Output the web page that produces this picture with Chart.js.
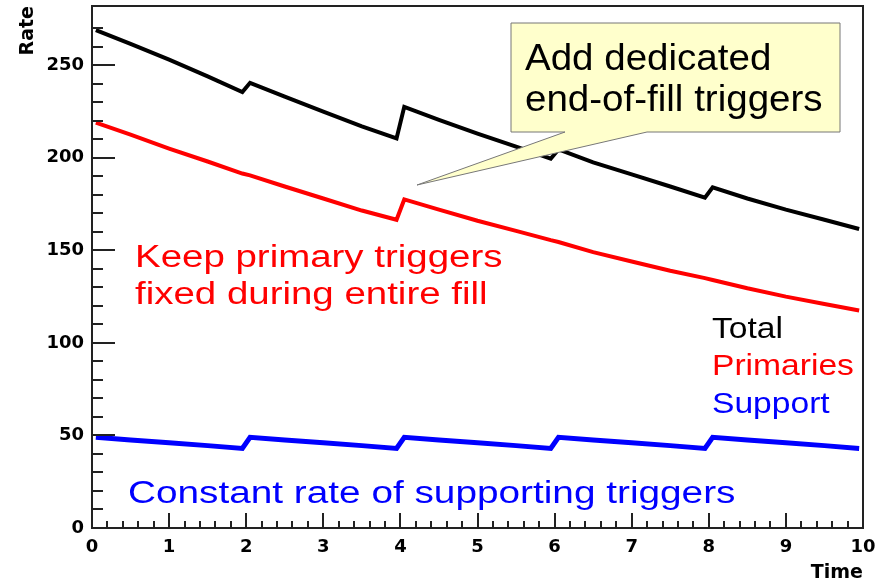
<!DOCTYPE html>
<html><head><meta charset="utf-8">
<script src="https://cdn.jsdelivr.net/npm/chart.js@4"></script>
<style>html,body{margin:0;padding:0;background:#fff}#wrap{width:888px;height:584px}</style>
</head><body><div id="wrap"><canvas id="c" width="888" height="584"></canvas></div>
<script>
// ---- data ----
const time = [0.05, 0.5, 1, 1.5, 1.95, 2.05, 2.5, 3, 3.5, 3.95, 4.05, 4.5, 5, 5.5, 5.95, 6.05, 6.5, 7, 7.5, 7.95, 8.05, 8.5, 9, 9.5, 9.95];
const totalRate = [269, 261.5, 253, 244, 235.5, 240.5, 233, 225, 217, 210.5, 227.5, 220.5, 213, 206, 199.5, 204.5, 197.5, 191, 184.5, 178.5, 184, 178, 172, 166.5, 161.5];
const primaryRate = [219, 212.5, 205, 198, 191.5, 190.5, 184.5, 178, 171.5, 166.5, 177.5, 172, 166, 160.5, 155.5, 154.5, 149, 144, 139, 135, 134, 129.5, 125, 121, 117.5];
const supportRate = [49, 47.5, 46, 44.5, 43, 49, 47.5, 46, 44.5, 43, 49, 47.5, 46, 44.5, 43, 49, 47.5, 46, 44.5, 43, 49, 47.5, 46, 44.5, 43];
const seriesNames = ['Total', 'Primaries', 'Support'];
const seriesColors = ['#000000', '#ff0000', '#0000ff'];
const xRange = [0, 10];
const yRange = [0, 282];
const xMajorStep = 1, xMinorStep = 0.2;
const yMajorStep = 50, yMinorStep = 10;
const axisTitles = {x: 'Time', y: 'Rate'};
const calloutLines = ['Add dedicated', 'end-of-fill triggers'];
const primaryNote = ['Keep primary triggers', 'fixed during entire fill'];
const supportNote = 'Constant rate of supporting triggers';

const pts = (ys) => time.map((t, i) => ({x: t, y: ys[i]}));
const isMult = (v, s) => Math.abs(v / s - Math.round(v / s)) < 1e-6;

function stretchText(ctx, txt, x, y, size, sx, color, bold) {
  ctx.save();
  ctx.font = (bold ? 'bold ' : '') + size + 'px "Liberation Sans", Arial, sans-serif';
  ctx.fillStyle = color;
  ctx.textBaseline = 'alphabetic';
  ctx.textAlign = 'left';
  ctx.translate(x, y);
  ctx.scale(sx, 1);
  ctx.fillText(txt, 0, 0);
  ctx.restore();
}

const decor = {
  id: 'decor',
  afterDatasetsDraw(chart) {
    const {ctx, chartArea: a, scales: {x, y}} = chart;
    ctx.save();
    // inward ticks
    ctx.strokeStyle = '#222';
    ctx.lineWidth = 2;
    ctx.beginPath();
    y.ticks.forEach(t => {
      const py = Math.round(y.getPixelForValue(t.value));
      const len = isMult(t.value, yMajorStep) ? 23 : 11;
      ctx.moveTo(a.left, py); ctx.lineTo(a.left + len, py);
    });
    x.ticks.forEach(t => {
      const px = Math.round(x.getPixelForValue(t.value));
      const len = isMult(t.value, xMajorStep) ? 15 : 7;
      ctx.moveTo(px, a.bottom); ctx.lineTo(px, a.bottom - len);
    });
    ctx.stroke();
    // frame
    ctx.strokeStyle = '#222';
    ctx.lineWidth = 2;
    ctx.strokeRect(a.left, a.top, a.right - a.left, a.bottom - a.top);

    // callout
    ctx.beginPath();
    ctx.moveTo(511, 23); ctx.lineTo(840, 23); ctx.lineTo(840, 132);
    ctx.lineTo(647, 132); ctx.lineTo(417, 185); ctx.lineTo(565, 132);
    ctx.lineTo(511, 132); ctx.closePath();
    ctx.fillStyle = '#ffffcc';
    ctx.fill();
    ctx.strokeStyle = '#777';
    ctx.lineWidth = 1;
    ctx.stroke();
    stretchText(ctx, calloutLines[0], 525, 70, 36, 1.07, '#000');
    stretchText(ctx, calloutLines[1], 525, 111, 36, 1.07, '#000');

    // notes
    stretchText(ctx, primaryNote[0], 135, 267, 31, 1.24, '#ff0000');
    stretchText(ctx, primaryNote[1], 135, 304, 31, 1.24, '#ff0000');
    stretchText(ctx, supportNote, 128, 503, 31, 1.25, '#0000ff');
    // legend text
    stretchText(ctx, seriesNames[0], 712, 338, 30, 1.12, seriesColors[0]);
    stretchText(ctx, seriesNames[1], 712, 375, 30, 1.12, seriesColors[1]);
    stretchText(ctx, seriesNames[2], 712, 413, 30, 1.12, seriesColors[2]);
    ctx.restore();
  }
};

const tickFont = {family: '"DejaVu Sans", sans-serif', weight: 'bold', size: 18};
const titleFont = {family: '"DejaVu Sans", sans-serif', weight: 'bold', size: 19};
new Chart(document.getElementById('c'), {
  type: 'scatter',
  data: {
    datasets: [
      {label: seriesNames[0], data: pts(totalRate), borderColor: seriesColors[0], borderWidth: 4},
      {label: seriesNames[1], data: pts(primaryRate), borderColor: seriesColors[1], borderWidth: 4},
      {label: seriesNames[2], data: pts(supportRate), borderColor: seriesColors[2], borderWidth: 5}
    ].map(d => Object.assign(d, {showLine: true, pointRadius: 0, tension: 0, fill: false, borderJoinStyle: 'miter'}))
  },
  options: {
    responsive: false, animation: false, devicePixelRatio: 1,
    layout: {padding: {left: 0, top: 6, right: 25, bottom: 0}},
    plugins: {legend: {display: false}, tooltip: {enabled: false}},
    scales: {
      x: {
        type: 'linear', min: xRange[0], max: xRange[1],
        grid: {display: false, drawTicks: false}, border: {display: false},
        ticks: {stepSize: xMinorStep, autoSkip: false, maxRotation: 0, color: '#000', font: tickFont, padding: 9,
          callback: v => isMult(v, xMajorStep) ? String(Math.round(v)) : ''},
        title: {display: true, text: axisTitles.x, align: 'end', color: '#000', font: titleFont, padding: {top: 0, bottom: 0}},
        afterFit: s => { s.height = 56; s.paddingLeft = 0; s.paddingRight = 0; }
      },
      y: {
        type: 'linear', min: yRange[0], max: yRange[1],
        grid: {display: false, drawTicks: false}, border: {display: false},
        ticks: {stepSize: yMinorStep, autoSkip: false, color: '#000', font: tickFont, padding: 8,
          callback: v => isMult(v, yMajorStep) ? String(Math.round(v)) : ''},
        title: {display: true, text: axisTitles.y, align: 'end', color: '#000', font: titleFont, padding: {top: 17, bottom: 0}},
        afterFit: s => { s.width = 92; s.paddingTop = 0; s.paddingBottom = 0; }
      }
    }
  },
  plugins: [decor]
});
</script>
</body></html>
